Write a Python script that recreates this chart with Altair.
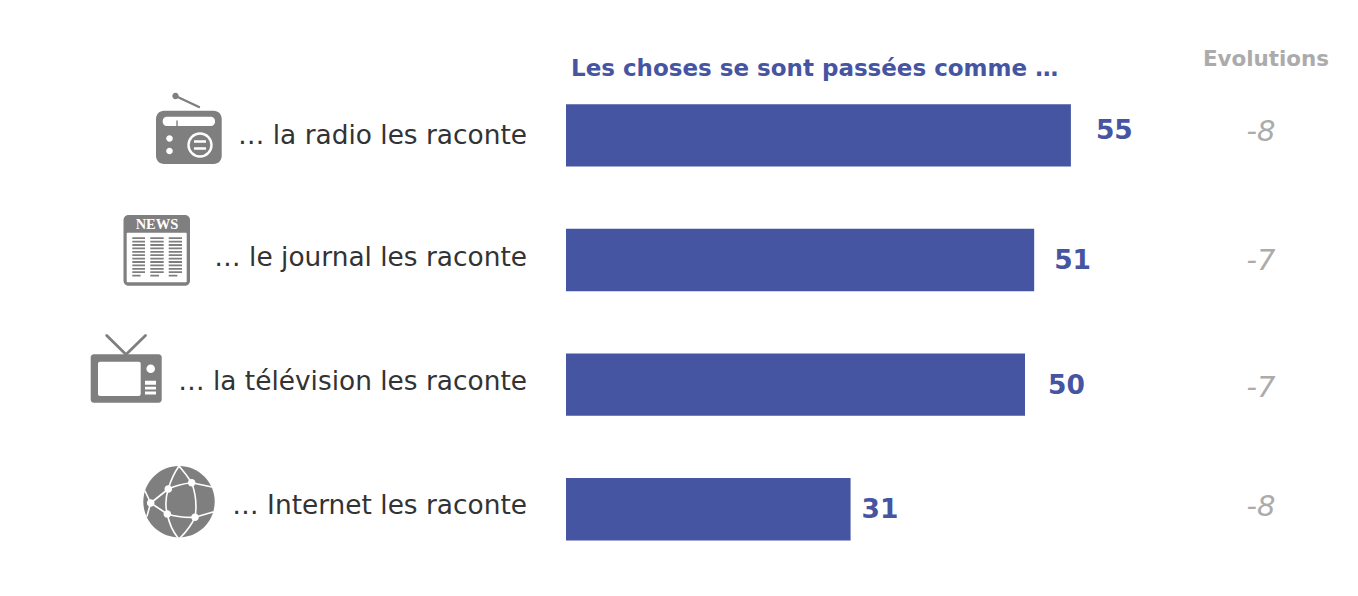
import altair as alt
import pandas as pd

categories = ["… la radio les raconte", "… le journal les raconte",
              "… la télévision les raconte", "… Internet les raconte"]
values = [55, 51, 50, 31]
evolutions = ["-8", "-7", "-7", "-8"]
header_main = "Les choses se sont passées comme …"
header_evol = "Evolutions"

BLUE = "#4655A2"
GREY = "#7F7F7F"
EVOL = "#ABABAB"
DARK = "#333333"
FONT = "DejaVu Sans"

# row-specific nudges of the labels relative to the bar centre
cat_dy = [1, -2, -3, -3]
val_dy = [-4, 1, 1, 1]
val_dx = [25, 20, 23, 11]
evol_dy = [-3, 1, 3, -2]

W, H = 1342, 580
PX_PER_UNIT = 9.18
X0 = 566 - 8
x_scale = alt.Scale(domain=[-X0 / PX_PER_UNIT, (W - X0) / PX_PER_UNIT], range=[0, W], nice=False, zero=False)
y_scale = alt.Scale(domain=categories, range=[65, 563.6], paddingInner=0.5, paddingOuter=0.25)
X = lambda f: alt.X(f, type="quantitative", scale=x_scale, axis=None)
Y = alt.Y("cat:N", scale=y_scale, axis=None, sort=None)

df = pd.DataFrame({"cat": categories, "value": values, "evol": evolutions})

layers = [alt.Chart(df).mark_bar(color=BLUE, opacity=1).encode(x=X("zero:Q"), x2="value:Q", y=Y)
          .transform_calculate(zero="0")]

for i in range(4):
    row = df.iloc[[i]]
    layers.append(alt.Chart(row).mark_text(align="right", baseline="middle", font=FONT, fontSize=26.4,
                                           color=DARK, dy=cat_dy[i])
                  .encode(x=alt.value(527 - 8), y=Y, text="cat:N"))
    layers.append(alt.Chart(row).mark_text(align="left", baseline="middle", font=FONT, fontSize=26.5,
                                           fontWeight="bold", color=BLUE, dx=val_dx[i], dy=val_dy[i])
                  .encode(x=X("value:Q"), y=Y, text="value:Q"))
    layers.append(alt.Chart(row).mark_text(align="center", baseline="middle", font=FONT, fontSize=29,
                                           fontStyle="italic", color=EVOL, dy=evol_dy[i])
                  .encode(x=alt.value(1261 - 8), y=Y, text="evol:N"))

hdr = pd.DataFrame({"t": [header_main], "e": [header_evol]})
layers.append(alt.Chart(hdr).mark_text(align="left", baseline="middle", font=FONT, fontSize=23,
                                       fontWeight="bold", color=BLUE)
              .encode(x=alt.value(571 - 8), y=alt.value(69 - 8), text="t:N"))
layers.append(alt.Chart(hdr).mark_text(align="right", baseline="middle", font=FONT, fontSize=21.4,
                                       fontWeight="bold", color=EVOL)
              .encode(x=alt.value(1329 - 8), y=alt.value(60 - 8), text="e:N"))


# ---------- icons, drawn as custom point symbols ----------
def rect(x0, y0, x1, y1, r=0):
    if r == 0:
        return f"M{x0} {y0}H{x1}V{y1}H{x0}Z"
    return (f"M{x0 + r} {y0}H{x1 - r}A{r} {r} 0 0 1 {x1} {y0 + r}V{y1 - r}A{r} {r} 0 0 1 {x1 - r} {y1}"
            f"H{x0 + r}A{r} {r} 0 0 1 {x0} {y1 - r}V{y0 + r}A{r} {r} 0 0 1 {x0 + r} {y0}Z")


def circ(cx, cy, r):
    return f"M{cx - r} {cy}A{r} {r} 0 1 1 {cx + r} {cy}A{r} {r} 0 1 1 {cx - r} {cy}Z"


def icon(path, color="GREY", filled=True, sw=0):
    c = {"GREY": GREY, "WHITE": "white"}[color]
    kw = dict(shape=path, size=4, opacity=1, filled=filled)
    if filled:
        kw.update(fill=c, strokeWidth=0)
    else:
        kw.update(stroke=c, strokeWidth=sw, strokeCap="round", strokeJoin="round", fillOpacity=0)
    return alt.Chart(hdr).mark_point(**kw).encode(x=alt.value(0), y=alt.value(0))


O = 8  # page margin: icon paths are laid out in page pixels, less the margin
def R(x0, y0, x1, y1, r=0): return rect(x0 - O, y0 - O, x1 - O, y1 - O, r)
def C(x, y, r): return circ(x - O, y - O, r)
def L(*pts): return "M" + "L".join(f"{x - O} {y - O}" for x, y in pts)
def Q(a, b, c): return f"M{a[0]-O} {a[1]-O}Q{b[0]-O} {b[1]-O} {c[0]-O} {c[1]-O}"


# radio
layers += [
    icon(L((175.5, 96), (199, 107)), filled=False, sw=2.4),
    icon(C(175.5, 96, 3.2)),
    icon(R(156, 110.7, 221.7, 164, 8)),
    icon(R(162.7, 116.7, 215, 126, 4), "WHITE"),
    icon(R(176.3, 120.5, 177.7, 126), "GREY"),
    icon(C(169.5, 138.5, 3.3), "WHITE"),
    icon(C(169.5, 151, 3.3), "WHITE"),
    icon(C(200, 145, 11.5), "WHITE", filled=False, sw=2.4),
    icon(R(194, 140.3, 206, 142.7) + R(194, 147.3, 206, 149.7), "WHITE"),
]
# newspaper
lines = ""
for x0, x1 in [(132.3, 145), (150.3, 163.7), (168.7, 182)]:
    for k in range(12):
        y = 237.3 + k * 3.4
        lines += R(x0, y, x0 + (x1 - x0) * (0.65 if k == 11 else 1), y + 1.8)
layers += [
    icon(R(123.5, 215, 190, 285.7, 5)),
    icon(R(126.7, 232.7, 186.7, 282.3, 1), "WHITE"),
    icon(lines),
]
layers.append(alt.Chart(pd.DataFrame({"t": ["NEWS"]})).mark_text(
    align="center", baseline="middle", font="Liberation Serif", fontSize=14.5, fontWeight="bold", color="white")
    .encode(x=alt.value(157 - 8), y=alt.value(224.5 - 8), text="t:N"))
# television
layers += [
    icon(L((106.7, 335.5), (126, 354.5), (145.5, 335.5)), filled=False, sw=2.8),
    icon(R(90.7, 354.3, 161.7, 402.7, 3)),
    icon(R(98, 361.7, 140.7, 396, 2), "WHITE"),
    icon(C(150.7, 368.7, 4.3), "WHITE"),
    icon(R(145, 380.7, 156, 384.7) + R(145, 386.7, 156, 389.5) + R(145, 391.5, 156, 394.5), "WHITE"),
]
# globe
A, B, Cc, D, E = (150.7, 503), (168.3, 489), (191.7, 482.7), (167.3, 514), (195, 517.3)
web = (L((145, 491), A, (147, 516)) + L(A, B) + L(A, D) + Q(B, (179, 484), Cc) + Q(B, (164, 502), D)
       + Q(D, (180, 518), E) + Q(Cc, (198, 500), E) + Q((179, 466), (172, 476), B) + Q((179, 466), (186, 474), Cc)
       + L(Cc, (212, 487)) + L(E, (213, 512)) + Q(D, (170, 528), (178, 538)) + Q(E, (190, 528), (180, 538)))
layers += [
    icon(C(179, 501.7, 35.7)),
    icon(web, "WHITE", filled=False, sw=1.6),
    icon(C(150.7, 503, 3.8) + C(168.3, 489, 3.8) + C(191.7, 482.7, 3.8) + C(167.3, 514, 3.8) + C(195, 517.3, 3.8),
         "WHITE"),
]

chart = (alt.layer(*layers)
         .properties(width=W, height=H, padding=0, autosize=alt.AutoSizeParams(type="none"), background="white")
         .configure_view(stroke=None))

chart.save("out.html", embed_options={"renderer": "svg", "actions": False})
